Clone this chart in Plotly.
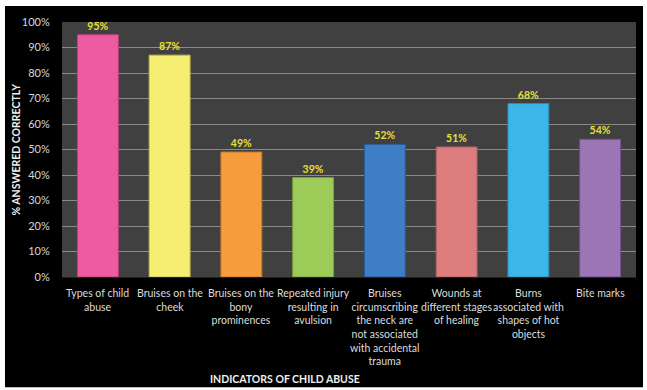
import plotly.graph_objects as go

categories = [
    "Types of child<br>abuse",
    "Bruises on the<br>cheek",
    "Bruises on the<br>bony<br>prominences",
    "Repeated injury<br>resulting in<br>avulsion",
    "Bruises<br>circumscribing<br>the neck are<br>not associated<br>with accidental<br>trauma",
    "Wounds at<br>different stages<br>of healing",
    "Burns<br>associated with<br>shapes of hot<br>objects",
    "Bite marks",
]
values = [0.95, 0.87, 0.49, 0.39, 0.52, 0.51, 0.68, 0.54]
value_labels = ["95%", "87%", "49%", "39%", "52%", "51%", "68%", "54%"]
bar_colors = ["#EE5BA0", "#F5EE72", "#F79C3C", "#9DCB58", "#3F7DC6", "#DE7D7D", "#3CB7E8", "#9B75B6"]
edge_colors = ["#B8437A", "#C2BC50", "#C6782A", "#76A040", "#2A5A98", "#AE5C5C", "#2A8CB8", "#744F90"]
y_tickvals = [i / 10 for i in range(11)]

W, H = 647, 390
L, R, T, B = 62, 11, 22, 112.5
pw, ph = W - L - R, H - T - B


def px_x(p):
    return (p - L) / pw


def px_y(p):
    return (H - B - p) / ph


font = "Lato, 'Open Sans', sans-serif"

fig = go.Figure(
    go.Bar(
        x=categories,
        y=values,
        text=value_labels,
        textposition="outside",
        cliponaxis=False,
        textfont=dict(color="#E6E033", size=10.5, family=font, weight="bold"),
        marker=dict(color=bar_colors, line=dict(color=edge_colors, width=1)),
        width=0.57,
    )
)

annotations = [
    dict(text="<b>INDICATORS OF CHILD ABUSE</b>", xref="paper", yref="paper",
         x=px_x(285), y=px_y(380), xanchor="center", yanchor="middle", showarrow=False,
         font=dict(size=10.5, color="#F0F0F0", family=font)),
    dict(text="<b>% ANSWERED CORRECTLY</b>", xref="paper", yref="paper",
         x=px_x(15), y=0.5, xanchor="center", yanchor="middle", showarrow=False,
         textangle=-90, font=dict(size=10.5, color="#F0F0F0", family=font)),
]
for c in categories:
    annotations.append(
        dict(text=c, x=c, xref="x", yref="paper", y=px_y(285.5),
             xanchor="center", yanchor="top", align="center", showarrow=False,
             font=dict(size=10.5, color="#DCDCDC", family=font))
    )

fig.update_layout(
    width=W,
    height=H,
    margin=dict(l=L, r=R, t=T, b=B),
    paper_bgcolor="white",
    plot_bgcolor="rgba(0,0,0,0)",
    showlegend=False,
    font=dict(family=font, color="#D8D8D8", size=11),
    shapes=[
        dict(type="rect", xref="paper", yref="paper",
             x0=px_x(5), x1=px_x(643), y0=px_y(388), y1=px_y(6),
             fillcolor="black", line=dict(width=0), layer="below"),
        dict(type="rect", xref="paper", yref="paper",
             x0=0, x1=1, y0=0, y1=1,
             fillcolor="#404040", line=dict(width=0), layer="below"),
    ],
    annotations=annotations,
)

fig.update_yaxes(
    range=[0, 1],
    tickvals=y_tickvals,
    tickformat=".0%",
    showgrid=True,
    gridcolor="#8A8A8A",
    gridwidth=1,
    zeroline=False,
    showline=False,
    ticks="outside",
    ticklen=9,
    tickcolor="rgba(0,0,0,0)",
    tickfont=dict(size=11, color="#D8D8D8"),
)
fig.update_xaxes(
    showgrid=False,
    showline=True,
    linecolor="#222222",
    linewidth=1,
    showticklabels=False,
)

fig.write_html("out.html")
